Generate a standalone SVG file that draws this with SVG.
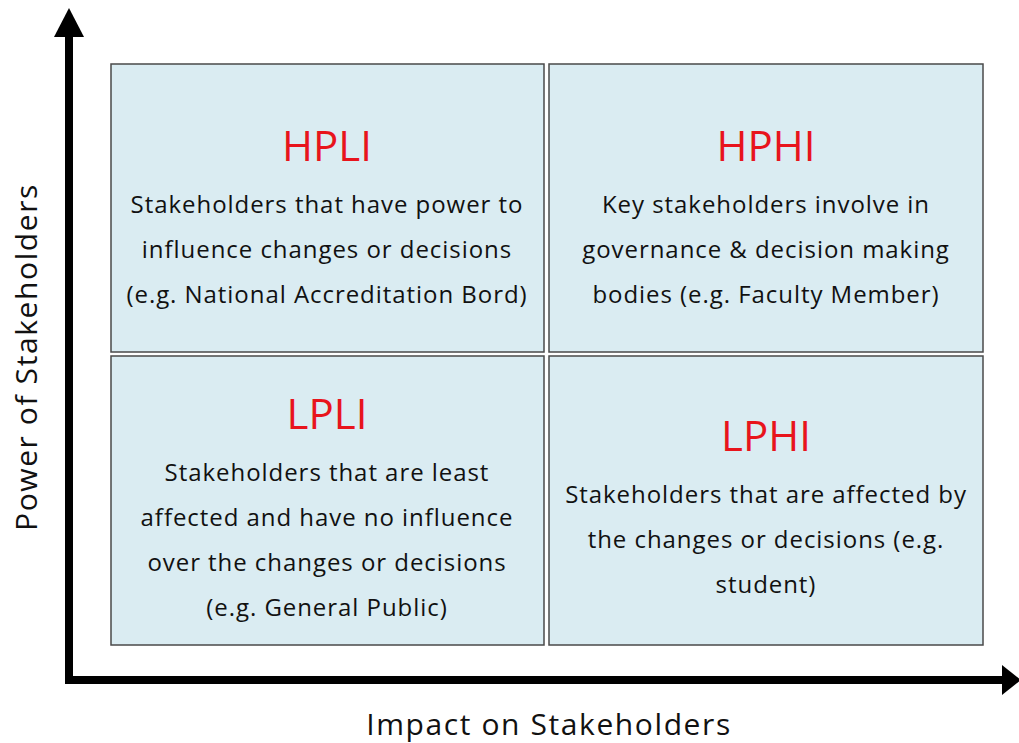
<svg xmlns="http://www.w3.org/2000/svg" width="1019" height="743" viewBox="0 0 1019 743">
<style>
.box{fill:#daecf2;stroke:#4a4a4a;stroke-width:1.5}
.t{font-family:"Open Sans","Noto Sans",sans-serif;font-size:42px;fill:#e8141c;text-anchor:middle}
.b{font-family:"Open Sans","Noto Sans",sans-serif;font-size:24px;letter-spacing:0.95px;fill:#111;text-anchor:middle}
.ax{font-family:"Open Sans","Noto Sans",sans-serif;font-size:30px;letter-spacing:1.6px;fill:#111;text-anchor:middle}
</style>
<rect width="1019" height="743" fill="#fff"/>
<g id="connectors">
<line x1="69" y1="684" x2="69" y2="34" stroke="#000" stroke-width="8"/>
<polygon points="69,8 84,37 54,37" fill="#000"/>
<line x1="65" y1="680" x2="1004" y2="680" stroke="#000" stroke-width="8"/>
<polygon points="1021,680 1002,665 1002,695" fill="#000"/>
</g>
<g id="hpli">
<rect class="box" x="111" y="64" width="433" height="288"/>
<text class="t" x="327" y="161">HPLI</text>
<text class="b" x="327" y="213">Stakeholders that have power to</text>
<text class="b" x="327" y="258">influence changes or decisions</text>
<text class="b" x="327" y="303">(e.g. National Accreditation Bord)</text>
</g>
<g id="hphi">
<rect class="box" x="549" y="64" width="434" height="288"/>
<text class="t" x="766" y="161">HPHI</text>
<text class="b" x="766" y="213">Key stakeholders involve in</text>
<text class="b" x="766" y="258">governance &amp; decision making</text>
<text class="b" x="766" y="303">bodies (e.g. Faculty Member)</text>
</g>
<g id="lpli">
<rect class="box" x="111" y="356" width="433" height="289"/>
<text class="t" x="327" y="429">LPLI</text>
<text class="b" x="327" y="481">Stakeholders that are least</text>
<text class="b" x="327" y="526">affected and have no influence</text>
<text class="b" x="327" y="571">over the changes or decisions</text>
<text class="b" x="327" y="616">(e.g. General Public)</text>
</g>
<g id="lphi">
<rect class="box" x="549" y="356" width="434" height="289"/>
<text class="t" x="766" y="451">LPHI</text>
<text class="b" x="766" y="503">Stakeholders that are affected by</text>
<text class="b" x="766" y="548">the changes or decisions (e.g.</text>
<text class="b" x="766" y="593">student)</text>
</g>
<text class="ax" transform="translate(37,357) rotate(-90)">Power of Stakeholders</text>
<text class="ax" x="549" y="735">Impact on Stakeholders</text>
</svg>
